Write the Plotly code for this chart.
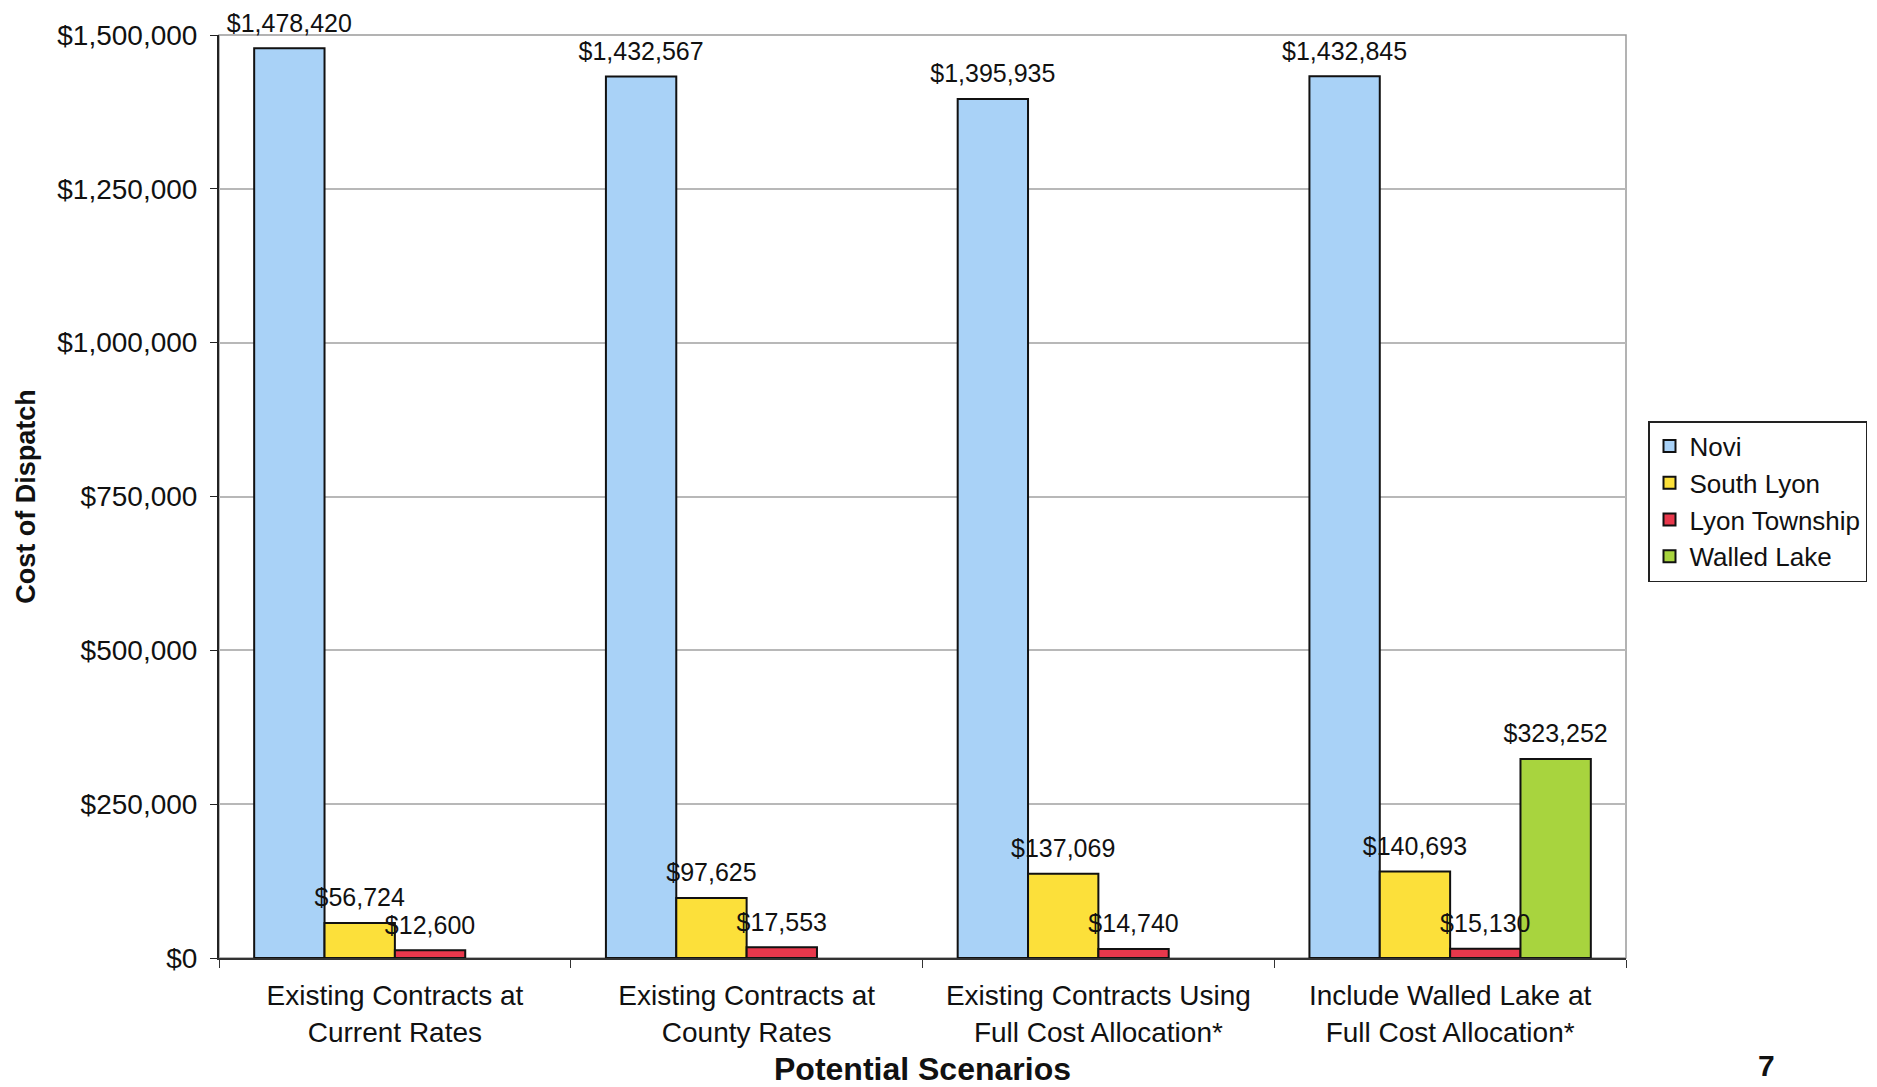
import plotly.graph_objects as go

categories = [
    "Existing Contracts at<br>Current Rates",
    "Existing Contracts at<br>County Rates",
    "Existing Contracts Using<br>Full Cost Allocation*",
    "Include Walled Lake at<br>Full Cost Allocation*",
]
series_names = ["Novi", "South Lyon", "Lyon Township", "Walled Lake"]
novi = [1478420, 1432567, 1395935, 1432845]
south_lyon = [56724, 97625, 137069, 140693]
lyon_township = [12600, 17553, 14740, 15130]
walled_lake = [None, None, None, 323252]
colors = ["#A9D2F7", "#FCE03A", "#E8384C", "#A8D43E"]
y_ticks = [0, 250000, 500000, 750000, 1000000, 1250000, 1500000]

FONT = "Liberation Sans, Arial, sans-serif"
# the page body adds an 8px margin, so the figure is 8px smaller and shifted
OFF = 8
W, H = 1877 - OFF, 1087 - OFF
PL, PR, PT, PB = 219 - OFF, 1626 - OFF, 35 - OFF, 958 - OFF
L, R, T, B = PL, W - PR, PT, H - PB

all_series = [novi, south_lyon, lyon_township, walled_lake]

fig = go.Figure()
for name, vals, col in zip(series_names, all_series, colors):
    fig.add_trace(go.Bar(
        name=name,
        x=categories,
        y=vals,
        marker=dict(color=col, line=dict(color="#111111", width=2)),
        cliponaxis=False,
        hoverinfo="x+y+name",
    ))

# value labels: grouped text traces aligned with the bars
for name, vals in zip(series_names, all_series):
    fig.add_trace(go.Scatter(
        name=name + " label",
        x=categories,
        y=vals,
        mode="markers+text",
        marker=dict(size=15, opacity=0),
        text=[None if v is None else f"${v:,.0f}" for v in vals],
        textposition="top center",
        textfont=dict(family=FONT, size=25, color="#111111"),
        cliponaxis=False,
        showlegend=False,
        hoverinfo="skip",
    ))

fig.update_layout(
    width=W, height=H,
    margin=dict(l=L, r=R, t=T, b=B, autoexpand=False),
    barmode="group",
    bargap=0.2,
    bargroupgap=0.0,
    scattermode="group",
    scattergap=0.2,
    paper_bgcolor="white",
    plot_bgcolor="white",
    font=dict(family=FONT, size=26, color="#111111"),
    showlegend=True,
    legend=dict(
        x=(1648 - OFF - PL) / (PR - PL), xanchor="left",
        y=(PB - (421 - OFF)) / (PB - PT), yanchor="top",
        bordercolor="#222222", borderwidth=1.5, bgcolor="white",
        font=dict(family=FONT, size=26, color="#111111"),
        tracegroupgap=0, itemwidth=30,
    ),
    xaxis=dict(
        title=dict(text="<b>Potential Scenarios</b>", font=dict(family=FONT, size=32), standoff=12),
        tickfont=dict(family=FONT, size=28, color="#111111"),
        showline=True, linecolor="#333333", linewidth=1.5,
        ticks="outside", tickson="boundaries", ticklen=8, tickcolor="#333333",
        ticklabelstandoff=12,
        showgrid=False,
    ),
    yaxis=dict(
        title=dict(text="<b>Cost of Dispatch</b>", font=dict(family=FONT, size=27), standoff=14),
        range=[0, 1500000],
        tickvals=y_ticks,
        tickformat="$,.0f",
        tickfont=dict(family=FONT, size=28, color="#111111"),
        showline=True, linecolor="#222222", linewidth=2,
        ticks="outside", ticklen=7, tickcolor="#222222",
        ticklabelstandoff=7,
        showgrid=True, gridcolor="#B8B8B8", gridwidth=1.5,
        zeroline=False,
    ),
    shapes=[
        dict(type="rect", xref="paper", yref="paper", x0=0, x1=1, y0=0, y1=1,
             line=dict(color="#9A9A9A", width=1.5), layer="below"),
    ],
    annotations=[
        dict(text="<b>7</b>", xref="paper", yref="paper",
             x=(1766 - OFF - PL) / (PR - PL), y=(PB - (H - 3)) / (PB - PT),
             xanchor="center", yanchor="bottom", showarrow=False,
             font=dict(family=FONT, size=30, color="#111111")),
    ],
)

fig.write_html("out.html")
